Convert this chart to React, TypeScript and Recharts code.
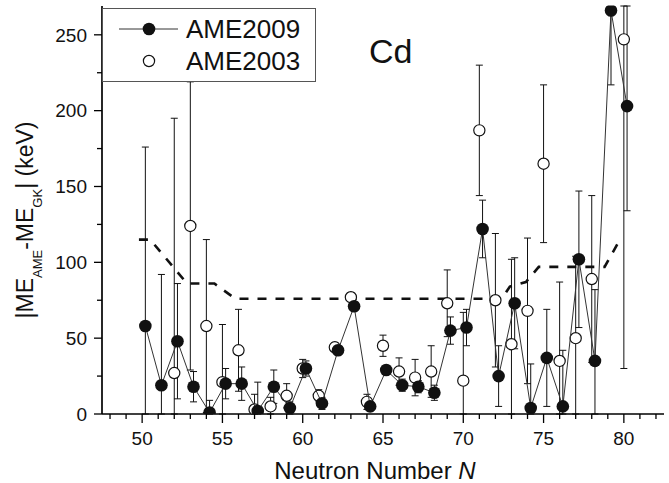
import React from 'react';
import { ScatterChart, Scatter, XAxis, YAxis, ErrorBar } from 'recharts';

// AME2009 (filled), plotted slightly right of the integer N
const N_2009 = [50, 51, 52, 53, 54, 55, 56, 57, 58, 59, 60, 61, 62, 63, 64, 65, 66, 67, 68, 69, 70, 71, 72, 73, 74, 75, 76, 77, 78, 79, 80];
const VAL_2009 = [58, 19, 48, 18, 1, 20, 20, 2, 18, 4, 30, 7, 42, 71, 5, 29, 19, 18, 14, 55, 57, 122, 25, 73, 4, 37, 5, 102, 35, 266, 203];
const ERR_2009 = [118, 73, 38, 10, 8, 10, 11, 19, 11, 4, 5, 4, 3, 3, 3, 3, 4, 4, 5, 9, 12, 19, 20, 30, 29, 32, 37, 45, 47, 49, 69];
const SHIFT_2009 = 0.2;

// AME2003 (open)
const N_2003 = [52, 53, 54, 55, 56, 57, 58, 59, 60, 61, 62, 63, 64, 65, 66, 67, 68, 69, 70, 71, 72, 73, 74, 75, 76, 77, 78, 80];
const VAL_2003 = [27, 124, 58, 21, 42, 3, 5, 12, 30, 12, 44, 77, 8, 45, 28, 24, 28, 73, 22, 187, 75, 46, 68, 165, 35, 50, 89, 247];
const ERR_2003 = [168, 95, 57, 38, 27, 10, 6, 8, 6, 4, 3, 3, 5, 7, 9, 12, 17, 22, 45, 43, 44, 56, 48, 52, 52, 54, 55, 217];

// GK dashed curve
const GK_N = [49.8, 50.5, 52.8, 54.5, 55.8, 72.4, 72.9, 73.9, 74.7, 78.8, 79.6];
const GK_VAL = [115, 115, 86, 86, 76, 76, 84, 87, 97, 97, 112];

const X_TICKS = [48, 49, 50, 51, 52, 53, 54, 55, 56, 57, 58, 59, 60, 61, 62, 63, 64, 65, 66, 67, 68, 69, 70, 71, 72, 73, 74, 75, 76, 77, 78, 79, 80, 81, 82];
const Y_TICKS = [0, 25, 50, 75, 100, 125, 150, 175, 200, 225, 250];
const X_DOMAIN = [47.5, 82.5];
const Y_DOMAIN = [0, 269];

const FONT = '"Liberation Sans", Arial, Helvetica, sans-serif';
const INK = '#111';

// error bars are cut at the frame of the plot, as in the original
const clampErr = (y: number, e: number) => [Math.min(e, y - Y_DOMAIN[0]), Math.min(e, Y_DOMAIN[1] - y)];

const data2009 = N_2009.map((n, i) => ({ x: n + SHIFT_2009, y: VAL_2009[i], e: clampErr(VAL_2009[i], ERR_2009[i]) }));
const data2003 = N_2003.map((n, i) => ({ x: n, y: VAL_2003[i], e: clampErr(VAL_2003[i], ERR_2003[i]) }));
const dataGK = GK_N.map((n, i) => ({ x: n, y: GK_VAL[i] }));

const BottomTick = (props: any) => {
  const { x, y, payload } = props;
  const v = payload.value;
  const major = v % 5 === 0;
  return (
    <g>
      <line x1={x} y1={y} x2={x} y2={y + (major ? 9 : 5)} stroke="#000" strokeWidth={1.3} />
      {major && (
        <text x={x} y={y + 31} textAnchor="middle" fontSize={19} fontFamily={FONT} fill={INK}>
          {v}
        </text>
      )}
    </g>
  );
};

const TopTick = (props: any) => {
  const { x, y } = props;
  return <line x1={x} y1={y} x2={x} y2={y + 3} stroke="#000" strokeWidth={1} />;
};

const LeftTick = (props: any) => {
  const { x, y, payload } = props;
  const v = payload.value;
  const major = v % 50 === 0;
  return (
    <g>
      <line x1={x} y1={y} x2={x - (major ? 8 : 5)} y2={y} stroke="#000" strokeWidth={1.3} />
      {major && (
        <text x={x - 15} y={y} dy="0.36em" textAnchor="end" fontSize={19} fontFamily={FONT} fill={INK}>
          {v}
        </text>
      )}
    </g>
  );
};

const RightTick = (props: any) => {
  const { x, y } = props;
  return <line x1={x} y1={y} x2={x - 3} y2={y} stroke="#000" strokeWidth={1} />;
};

const YLabel = (props: any) => {
  const vb = props.viewBox || { x: 0, y: 6, width: 102, height: 408 };
  const cx = 32.5;
  const cy = vb.y + vb.height / 2 + 10;
  return (
    <text
      x={0}
      y={0}
      transform={`translate(${cx},${cy}) rotate(-90)`}
      textAnchor="middle"
      fontSize={23}
      fontFamily={FONT}
      fill={INK}
    >
      <tspan>|ME</tspan>
      <tspan fontSize={13} dy={9}>AME</tspan>
      <tspan dy={-9}>-ME</tspan>
      <tspan fontSize={13} dy={9}>GK</tspan>
      <tspan dy={-9}>| (keV)</tspan>
    </text>
  );
};

const XLabel = (props: any) => {
  const vb = props.viewBox || { x: 102, y: 414, width: 562, height: 69 };
  const cx = vb.x + vb.width / 2 - 8;
  return (
    <text x={cx} y={479} textAnchor="middle" fontSize={24} fontFamily={FONT} fill={INK}>
      Neutron Number <tspan fontStyle="italic">N</tspan>
    </text>
  );
};

const FilledDot = (props: any) => <circle cx={props.cx} cy={props.cy} r={6.3} fill="#111" />;
const OpenDot = (props: any) => (
  <circle cx={props.cx} cy={props.cy} r={5.6} fill="#fff" stroke="#111" strokeWidth={1.2} />
);
const NoDot = () => <g />;

export default function App() {
  return (
    <div style={{ position: 'absolute', left: 0, top: 0, width: 669, height: 483, background: '#fff' }}>
      <ScatterChart width={669} height={483} margin={{ top: 6, right: 5, bottom: 0, left: 0 }}>
        <XAxis
          xAxisId="b"
          type="number"
          dataKey="x"
          domain={X_DOMAIN}
          allowDataOverflow
          ticks={X_TICKS}
          interval={0}
          tickSize={0}
          tickMargin={0}
          tickLine={false}
          tick={<BottomTick />}
          axisLine={{ stroke: '#000', strokeWidth: 1.7 }}
          height={69}
          label={<XLabel />}
        />
        <XAxis
          xAxisId="t"
          orientation="top"
          type="number"
          dataKey="x"
          domain={X_DOMAIN}
          allowDataOverflow
          ticks={X_TICKS}
          interval={0}
          tickSize={0}
          tickMargin={0}
          tickLine={false}
          tick={<TopTick />}
          axisLine={{ stroke: '#000', strokeWidth: 1.4 }}
          height={0}
        />
        <YAxis
          yAxisId="l"
          type="number"
          dataKey="y"
          domain={Y_DOMAIN}
          allowDataOverflow
          ticks={Y_TICKS}
          interval={0}
          tickSize={0}
          tickMargin={0}
          tickLine={false}
          tick={<LeftTick />}
          axisLine={{ stroke: '#000', strokeWidth: 1.7 }}
          width={102}
          label={<YLabel />}
        />
        <YAxis
          yAxisId="r"
          orientation="right"
          type="number"
          dataKey="y"
          domain={Y_DOMAIN}
          allowDataOverflow
          ticks={Y_TICKS}
          interval={0}
          tickSize={0}
          tickMargin={0}
          tickLine={false}
          tick={<RightTick />}
          axisLine={{ stroke: '#000', strokeWidth: 1 }}
          width={0}
        />
        <Scatter
          xAxisId="b"
          yAxisId="l"
          data={dataGK}
          line={{ stroke: '#111', strokeWidth: 2.6, strokeDasharray: '9 9' }}
          shape={NoDot}
          isAnimationActive={false}
        />
        <Scatter xAxisId="b" yAxisId="l" data={data2003} shape={OpenDot} isAnimationActive={false}>
          <ErrorBar dataKey="e" direction="y" width={3.5} stroke="#111" strokeWidth={1} isAnimationActive={false} />
        </Scatter>
        <Scatter
          xAxisId="b"
          yAxisId="l"
          data={data2009}
          shape={FilledDot}
          line={{ stroke: '#333', strokeWidth: 1 }}
          isAnimationActive={false}
        >
          <ErrorBar dataKey="e" direction="y" width={3.5} stroke="#111" strokeWidth={1} isAnimationActive={false} />
        </Scatter>
      </ScatterChart>
      <svg
        width={669}
        height={483}
        style={{ position: 'absolute', left: 0, top: 0, pointerEvents: 'none' }}
      >
        <g transform="translate(102,8)">
          <rect x={0.5} y={0.5} width={213} height={73} fill="#fff" stroke="#555" strokeWidth={1} />
          <line x1={17} y1={21} x2={76} y2={21} stroke="#333" strokeWidth={1} />
          <circle cx={47} cy={21} r={6.3} fill="#111" />
          <circle cx={47} cy={53} r={5.6} fill="#fff" stroke="#111" strokeWidth={1.2} />
          <text x={84} y={29.5} fontSize={26} fontFamily={FONT} fill={INK}>AME2009</text>
          <text x={84} y={62} fontSize={26} fontFamily={FONT} fill={INK}>AME2003</text>
        </g>
        <text x={369} y={63} fontSize={34} fontFamily={FONT} fill={INK}>Cd</text>
      </svg>
    </div>
  );
}
